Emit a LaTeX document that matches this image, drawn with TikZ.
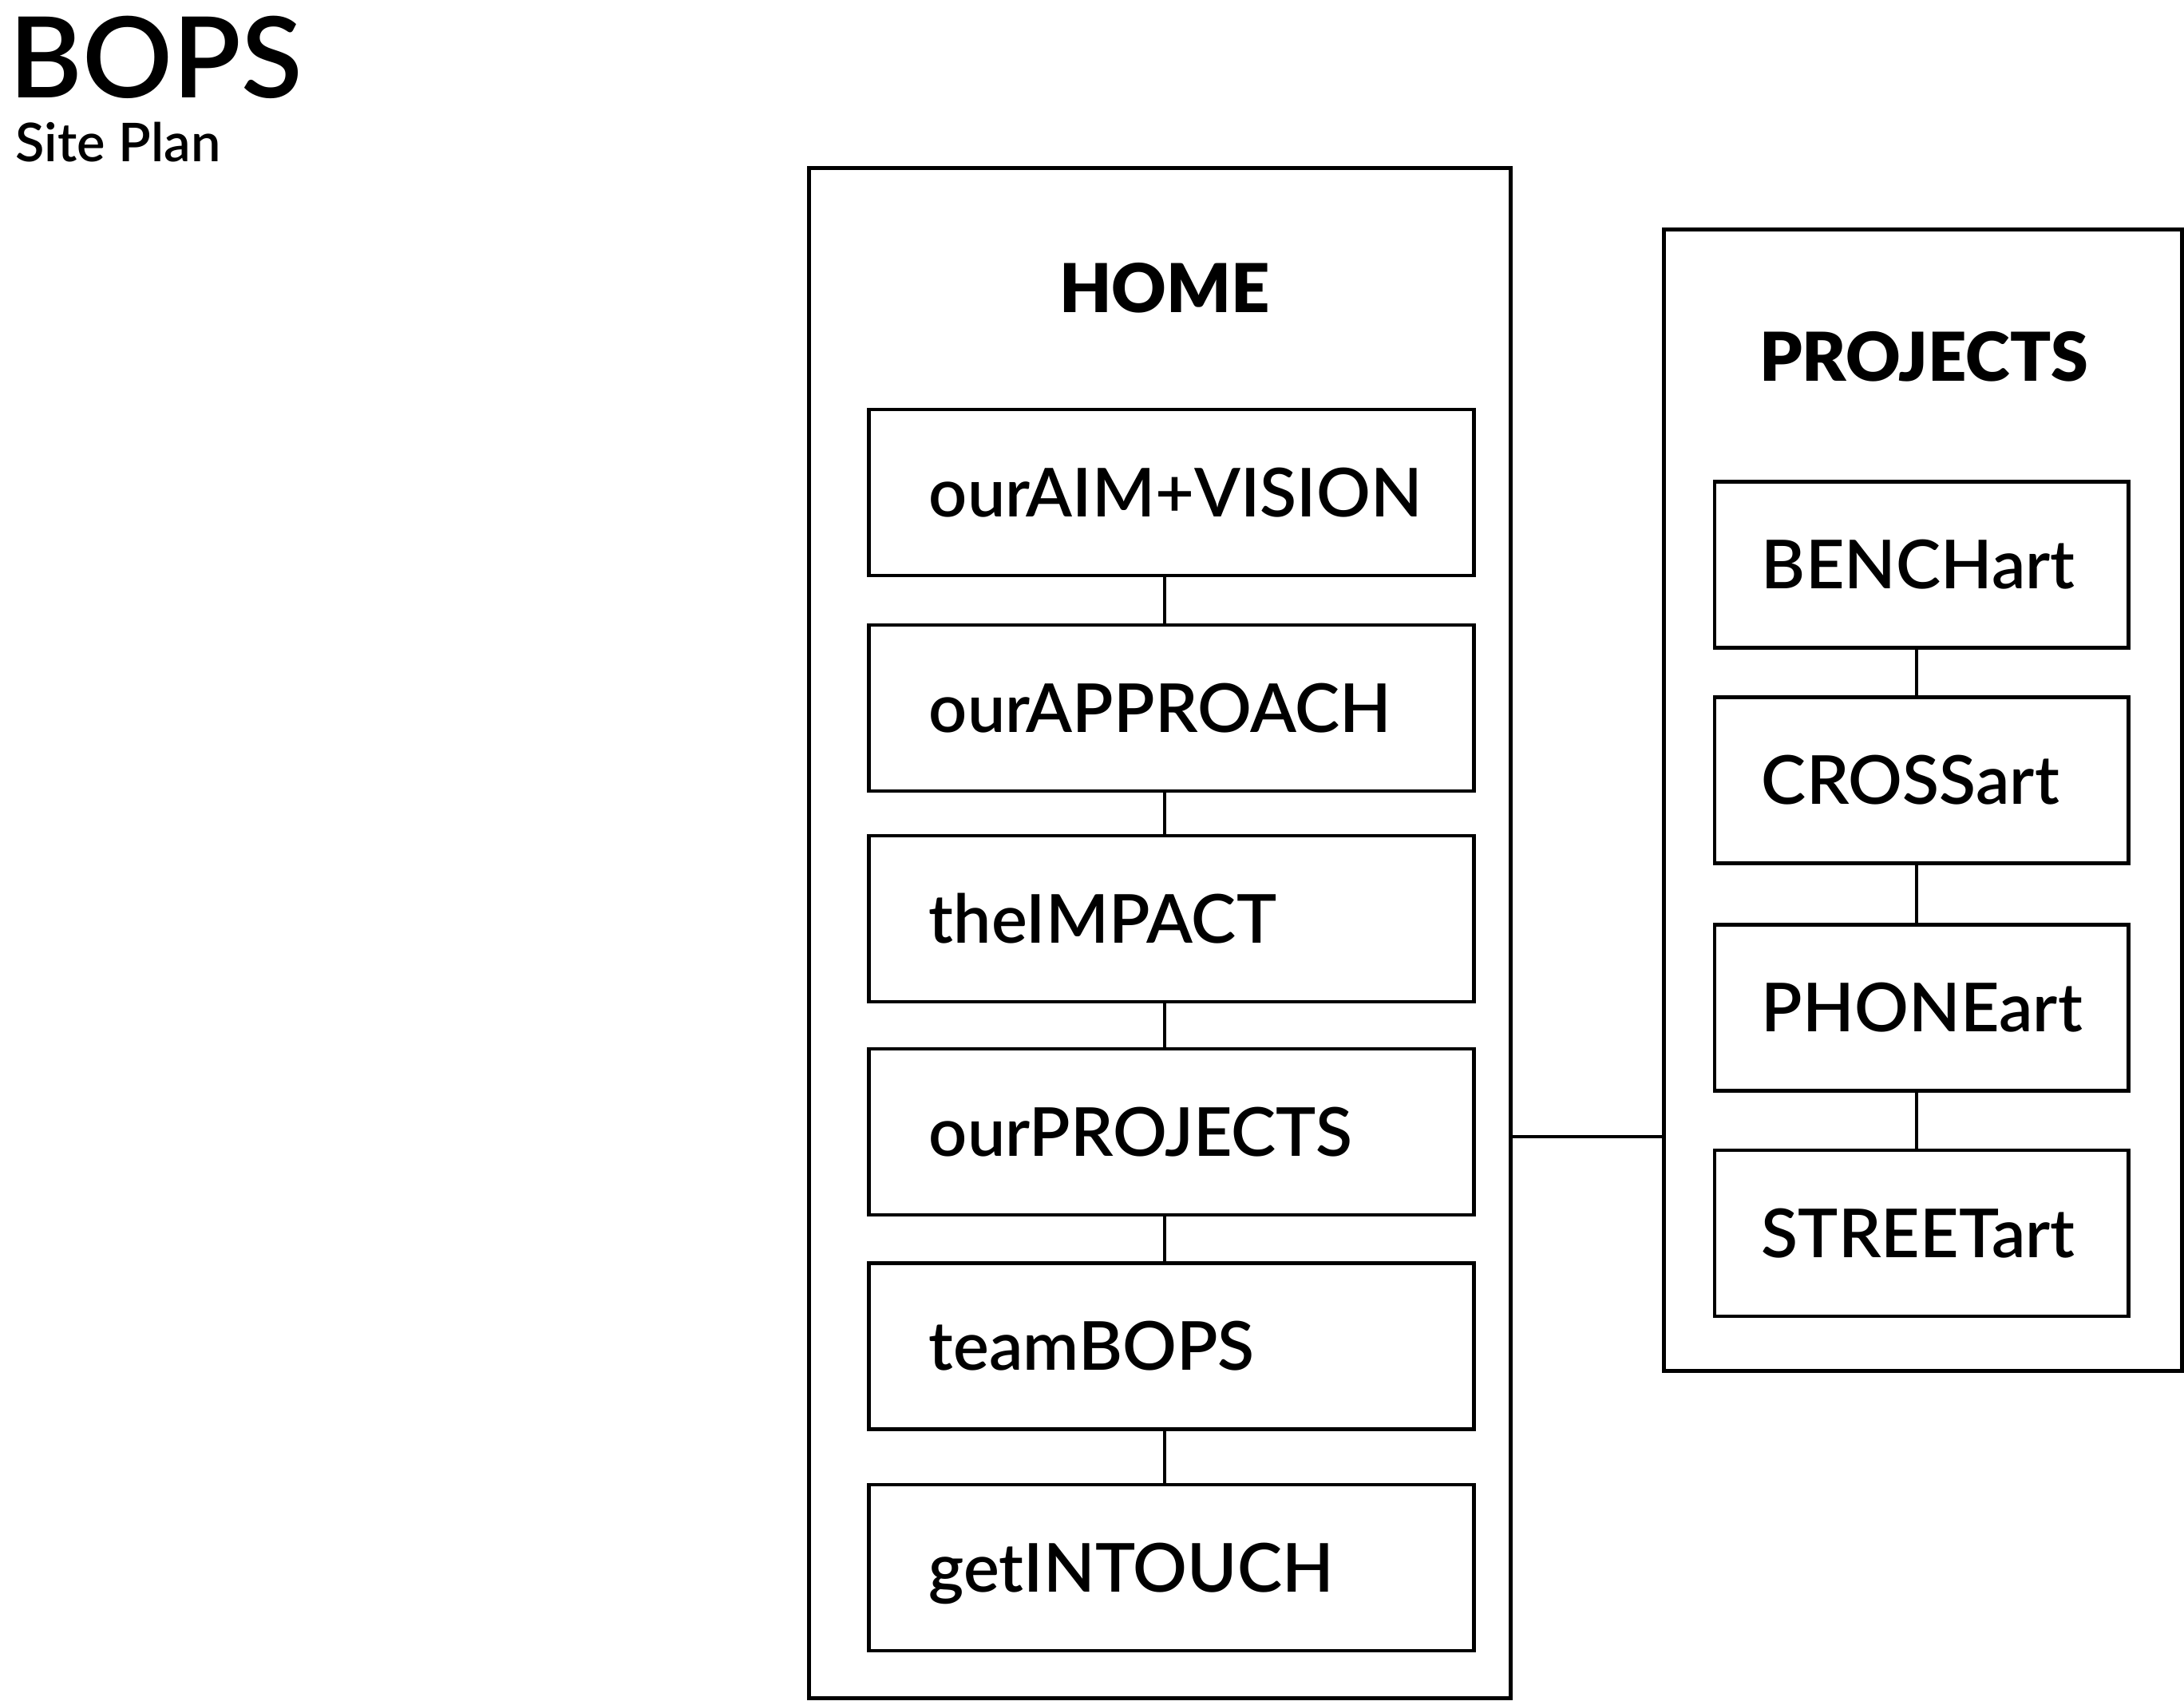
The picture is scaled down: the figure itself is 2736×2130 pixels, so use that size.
\documentclass[tikz,border=0pt]{standalone}
\usepackage{fontspec}
\setmainfont{Lato}
\IfFontExistsTF{Lato Semibold}
  {\newfontfamily\itemfont{Lato Semibold}}
  {\newfontfamily\itemfont{Lato}[FakeBold=0.4]}
\IfFontExistsTF{Lato Black}
  {\newfontfamily\headfont{Lato Black}}
  {\newfontfamily\headfont{Lato Bold}}
\begin{document}
\begin{tikzpicture}[x=0.01cm,y=-0.01cm,
  line width=1.35pt,
  outerbox/.style={draw, minimum width=#1, inner sep=0pt},
  itembox/.style={draw, inner sep=0pt, align=left, font=\itemfont\fontsize{24}{28}\selectfont,
     text height=17.2pt, text depth=0pt, minimum height=2.08cm},
  homeitem/.style={itembox, minimum width=7.57cm, inner xsep=0.75cm, text width=6.07cm},
  projitem/.style={itembox, minimum width=5.18cm, inner xsep=0.59cm, text width=4.00cm},
  header/.style={font=\headfont\fontsize{24}{28}\selectfont, inner sep=0pt},
  conn/.style={line width=1.2pt}
]
\useasboundingbox (0,0) rectangle (2736,2130);

\node[anchor=base west, inner sep=0pt, font=\itemfont\fontsize{40}{44}\selectfont] (bops) at (9,122) {BOPS};
\node[anchor=base west, inner sep=0pt, font=\itemfont\fontsize{19}{22}\selectfont] (siteplan) at (17,202) {Site Plan};

% HOME group
\node[outerbox=8.78cm, minimum height=19.16cm] (home) at (1453,1169) {};
\node[header] (hometitle) at (1459,361) {HOME};
\node[homeitem] (h1) at (1467.5,617) {ourAIM+VISION};
\node[homeitem] (h2) at (1467.5,887) {ourAPPROACH};
\node[homeitem] (h3) at (1467.5,1151) {theIMPACT};
\node[homeitem] (h4) at (1467.5,1418) {ourPROJECTS};
\node[homeitem] (h5) at (1467.5,1686.5) {teamBOPS};
\node[homeitem] (h6) at (1467.5,1964) {getINTOUCH};

\foreach \a/\b in {h1/h2,h2/h3,h3/h4,h4/h5,h5/h6}
  \draw[conn] ([xshift=-0.085cm]\a.south) -- ([xshift=-0.085cm]\b.north);

% PROJECTS group
\node[outerbox=6.48cm, minimum height=14.29cm] (proj) at (2409,1002.5) {};
\node[header] (projtitle) at (2410,447) {PROJECTS};
\node[projitem] (p1) at (2407,707.5) {BENCHart};
\node[projitem] (p2) at (2407,977.5) {CROSSart};
\node[projitem] (p3) at (2407,1262.5) {PHONEart};
\node[projitem] (p4) at (2407,1545) {STREETart};

\foreach \a/\b in {p1/p2,p2/p3,p3/p4}
  \draw[conn] ([xshift=-0.06cm]\a.south) -- ([xshift=-0.06cm]\b.north);

\coordinate (link) at (0,1424);
\draw[conn] (home.east |- link) -- (proj.west |- link);
\end{tikzpicture}
\end{document}
